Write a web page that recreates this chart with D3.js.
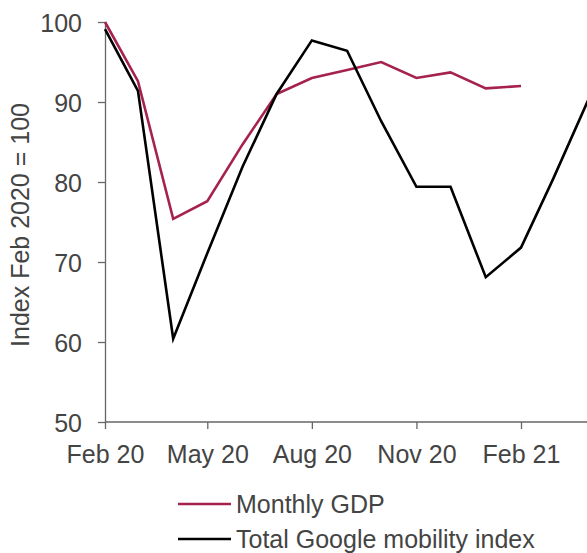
<!DOCTYPE html>
<html lang="en">
<head>
  <meta charset="UTF-8">
  <title>Monthly GDP vs Google mobility</title>
  <script src="https://d3js.org/d3.v7.min.js"></script>
  <style>
    body { margin: 0; background: #fff; font-family: "Liberation Sans", Arial, sans-serif; }
    svg { display: block; }
    .axis text { font-size: 25px; fill: #444; font-family: "Liberation Sans", Arial, sans-serif; }
    .axis path, .axis line { stroke: #666; stroke-width: 1.3; }
  </style>
</head>
<body>
  <svg width="587" height="553"></svg>

  <script>
    // monthly data, Feb 2020 onwards
    const months = ["2020-02", "2020-03", "2020-04", "2020-05", "2020-06", "2020-07", "2020-08",
                    "2020-09", "2020-10", "2020-11", "2020-12", "2021-01", "2021-02", "2021-03", "2021-04"];
    const gdp = [100, 92.6, 75.4, 77.6, 84.7, 91.0, 93.0, 94.0, 95.0, 93.0, 93.7, 91.7, 92.0];
    const mobility = [99.1, 91.4, 60.4, 71.1, 81.9, 91.0, 97.7, 96.4, 87.6, 79.4, 79.4, 68.1, 71.8, 80.3, 90.2];
    const yTicks = [50, 60, 70, 80, 90, 100];
    const xTickMonths = ["2020-02", "2020-05", "2020-08", "2020-11", "2021-02"];

    const series = [
      { name: "Monthly GDP", color: "#a6224e", values: gdp },
      { name: "Total Google mobility index", color: "#000", values: mobility }
    ];

    const svg = d3.select("svg");
    const parse = d3.timeParse("%Y-%m");
    const fmt = d3.timeFormat("%b %y");

    const x = d3.scaleTime()
      .domain([parse("2020-02"), parse("2021-02")])
      .range([105, 521]);
    const y = d3.scaleLinear().domain([50, 100]).range([422, 22]);

    // axes
    svg.append("g")
      .attr("class", "axis")
      .attr("transform", "translate(0,422)")
      .call(d3.axisBottom(x)
        .tickValues(xTickMonths.map(parse))
        .tickFormat(fmt)
        .tickSize(7).tickSizeOuter(0).tickPadding(16))
      .call(g => g.select(".domain").attr("d", "M105,0H587"));

    svg.append("g")
      .attr("class", "axis")
      .attr("transform", "translate(105,0)")
      .call(d3.axisLeft(y).tickValues(yTicks).tickSize(7).tickSizeOuter(0).tickPadding(16))
      .call(g => g.selectAll(".tick text").attr("dy", "0.36em"));

    svg.append("text")
      .attr("transform", "translate(29,225) rotate(-90)")
      .attr("text-anchor", "middle")
      .attr("font-size", 25)
      .attr("fill", "#444")
      .text("Index Feb 2020 = 100");

    const line = d3.line()
      .x((d, i) => x(parse(months[i])))
      .y(d => y(d));

    svg.selectAll(".series")
      .data(series)
      .join("path")
      .attr("class", "series")
      .attr("fill", "none")
      .attr("stroke", d => d.color)
      .attr("stroke-width", 2.6)
      .attr("stroke-linejoin", "miter")
      .attr("d", d => line(d.values));

    // legend
    const legend = svg.append("g")
      .selectAll("g")
      .data(series)
      .join("g")
      .attr("transform", (d, i) => `translate(178,${504 + i * 35})`);

    legend.append("line")
      .attr("x1", 0).attr("x2", 53)
      .attr("stroke", d => d.color)
      .attr("stroke-width", 2.6);

    legend.append("text")
      .attr("x", 58)
      .attr("dy", "0.36em")
      .attr("font-size", 25)
      .attr("fill", "#444")
      .text(d => d.name);
  </script>
</body>
</html>
